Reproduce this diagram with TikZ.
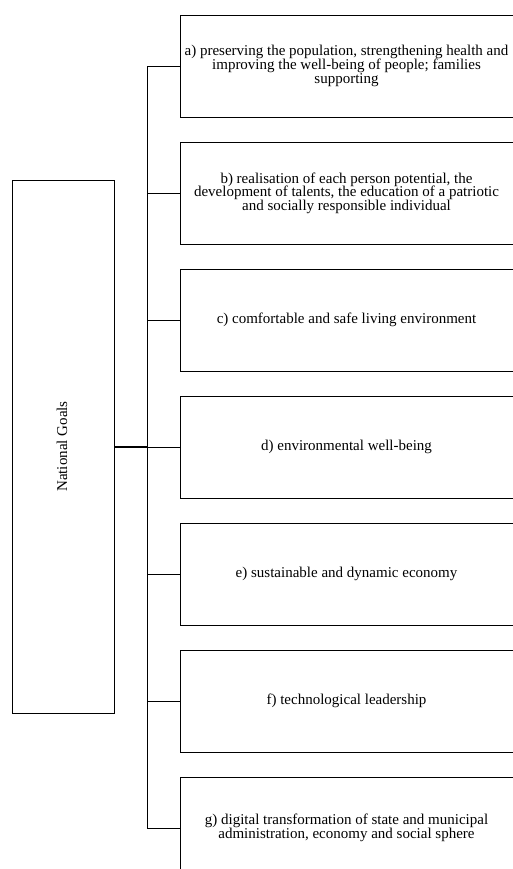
\documentclass[tikz,border=0pt]{standalone}
\usepackage{fontspec}
\setmainfont{Liberation Serif}
\newcommand{\goalfont}{\fontsize{15}{13.6}\selectfont\lineskiplimit=-100pt\relax}
\begin{document}
\begin{tikzpicture}[x=1pt,y=-1pt,
  line width=0.9pt,
  goalbox/.style={draw, rectangle, minimum width=333pt, minimum height=102pt,
    inner sep=0pt, align=center, font=\goalfont},
  mainbox/.style={draw, rectangle, minimum width=102pt, minimum height=533pt,
    inner sep=0pt}]
\useasboundingbox (0,0) rectangle (512,869);
\node[mainbox] (ng) at (63.5,446.5) {};
\node[rotate=90, font=\goalfont] (ngt) at (62,446.5) {National Goals};
\node[goalbox] (a) at (346.5,66) {a) preserving the population, strengthening health and\\improving the well-being of people; families\\supporting};
\node[goalbox] (b) at (346.5,193) {b) realisation of each person potential, the\\development of talents, the education of a patriotic\\and socially responsible individual};
\node[goalbox] (c) at (346.5,320) {c) comfortable and safe living environment};
\node[goalbox] (d) at (346.5,447) {d) environmental well-being};
\node[goalbox] (e) at (346.5,574) {e) sustainable and dynamic economy};
\node[goalbox] (f) at (346.5,701) {f) technological leadership};
\node[goalbox] (g) at (346.5,828) {g) digital transformation of state and municipal\\administration, economy and social sphere};
\coordinate (j) at (147,447);
\draw (ng.east |- j) -- (d.west);
\draw[line width=1.3pt] (ng.east |- j) -- (j);
\foreach \n in {a,b,c,e,f,g} \draw (j) |- (\n.west);
\end{tikzpicture}
\end{document}
